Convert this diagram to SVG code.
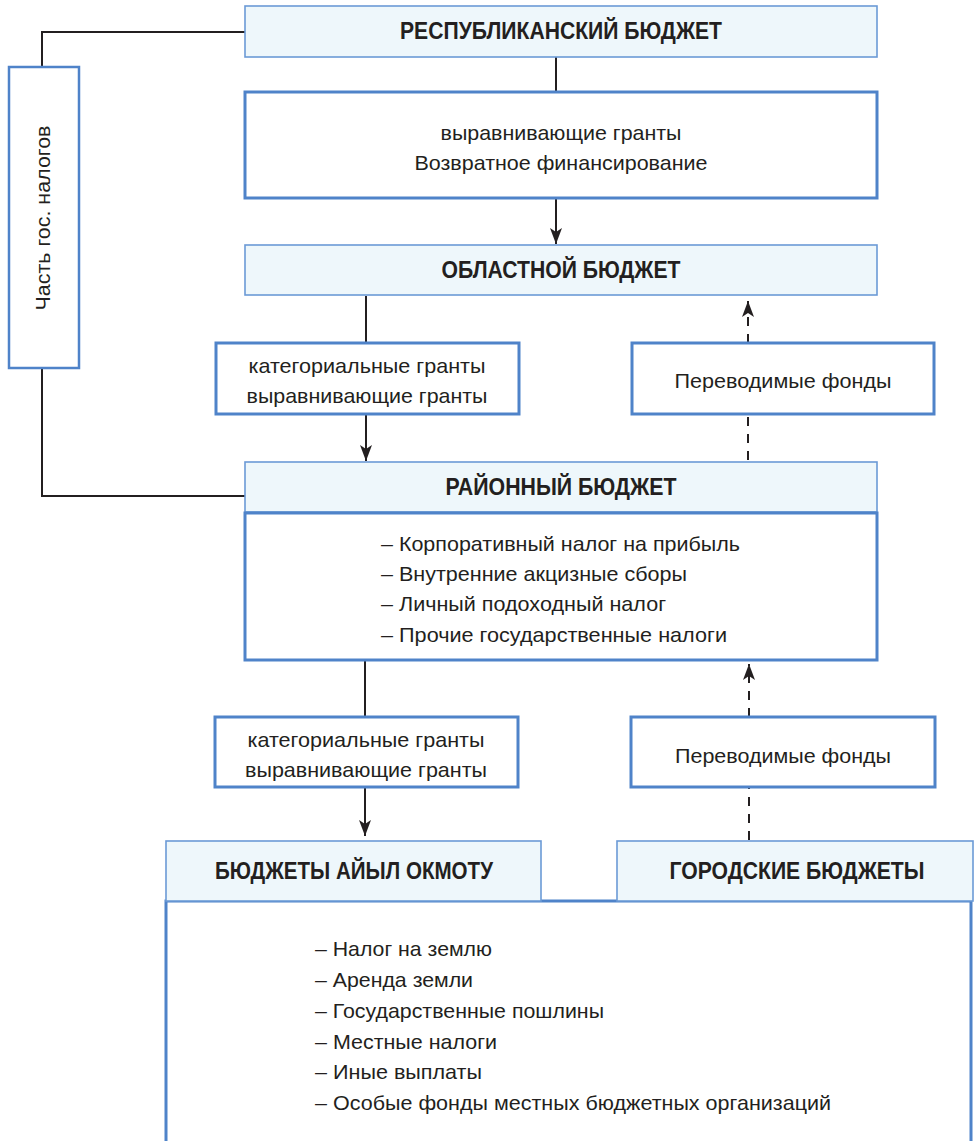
<svg xmlns="http://www.w3.org/2000/svg" width="977" height="1141" viewBox="0 0 977 1141">
<defs>
<style>
.hdr{fill:#EEF7FB;stroke:#6B9AD6;stroke-width:1.6}
.box{fill:#FFFFFF;stroke:#4F83C9;stroke-width:3}
.sbox{fill:#FFFFFF;stroke:#4F83C9;stroke-width:2.5}
.t{font-family:"Liberation Sans",Arial,sans-serif;font-size:21px;fill:#231F20}
.s{font-family:"Liberation Sans",Arial,sans-serif;font-size:20px;fill:#231F20}
.b{font-family:"Liberation Sans",Arial,sans-serif;font-size:23px;font-weight:bold;fill:#231F20}
.ln{fill:none;stroke:#231F20;stroke-width:2}
.dash{fill:none;stroke:#231F20;stroke-width:2;stroke-dasharray:9,8}
</style>
<marker id="ah" markerWidth="16" markerHeight="12" refX="16" refY="6" orient="auto" markerUnits="userSpaceOnUse" viewBox="0 0 16 12">
<path d="M16,6 L0,0 L4,6 L0,12 Z" fill="#231F20"/>
</marker>
</defs>

<g id="connectors">
<polyline class="ln" points="245,32 42,32 42,67" stroke-width="2.5"/>
<polyline class="ln" points="42,368 42,496 245,496" stroke-width="2.5"/>
<line class="ln" x1="556" y1="57" x2="556" y2="92"/>
<line class="ln" x1="556" y1="198" x2="556" y2="244" marker-end="url(#ah)"/>
<line class="ln" x1="366" y1="296" x2="366" y2="343"/>
<line class="ln" x1="366" y1="414" x2="366" y2="461" marker-end="url(#ah)"/>
<line class="dash" x1="748" y1="460" x2="748" y2="414"/>
<line class="dash" x1="748" y1="343" x2="748" y2="301" marker-end="url(#ah)"/>
<line class="ln" x1="365" y1="661" x2="365" y2="717"/>
<line class="ln" x1="365" y1="787" x2="365" y2="836" marker-end="url(#ah)"/>
<line class="dash" x1="749" y1="840" x2="749" y2="787"/>
<line class="dash" x1="749" y1="717" x2="749" y2="664" marker-end="url(#ah)"/>
</g>

<g id="side">
<rect class="sbox" x="9" y="67" width="70" height="301"/>
<text class="s" x="0" y="0" text-anchor="middle" textLength="185" lengthAdjust="spacingAndGlyphs" transform="translate(50,218) rotate(-90)">Часть гос. налогов</text>
</g>

<g id="republic">
<rect class="hdr" x="245" y="6" width="632" height="51"/>
<text class="b" x="561" y="39" text-anchor="middle" textLength="322" lengthAdjust="spacingAndGlyphs">РЕСПУБЛИКАНСКИЙ БЮДЖЕТ</text>
</g>

<g id="grants1">
<rect class="box" x="245" y="92" width="632" height="106"/>
<text class="t" x="561" y="140" text-anchor="middle" textLength="241" lengthAdjust="spacingAndGlyphs">выравнивающие гранты</text>
<text class="t" x="561" y="170" text-anchor="middle" textLength="293" lengthAdjust="spacingAndGlyphs">Возвратное финансирование</text>
</g>

<g id="oblast">
<rect class="hdr" x="245" y="245" width="632" height="50"/>
<text class="b" x="561" y="278" text-anchor="middle" textLength="239" lengthAdjust="spacingAndGlyphs">ОБЛАСТНОЙ БЮДЖЕТ</text>
</g>

<g id="grants2">
<rect class="box" x="216" y="343" width="303" height="71"/>
<text class="t" x="367" y="373" text-anchor="middle" textLength="237" lengthAdjust="spacingAndGlyphs">категориальные гранты</text>
<text class="t" x="367" y="403" text-anchor="middle" textLength="241" lengthAdjust="spacingAndGlyphs">выравнивающие гранты</text>
</g>

<g id="funds1">
<rect class="box" x="632" y="343" width="302" height="71"/>
<text class="t" x="783" y="388" text-anchor="middle" textLength="217" lengthAdjust="spacingAndGlyphs">Переводимые фонды</text>
</g>

<g id="raion">
<rect class="hdr" x="245" y="462" width="632" height="50"/>
<text class="b" x="561" y="495" text-anchor="middle" textLength="231" lengthAdjust="spacingAndGlyphs">РАЙОННЫЙ БЮДЖЕТ</text>
<rect class="box" x="245" y="513" width="632" height="147"/>
<text class="t" x="381" y="551" textLength="359" lengthAdjust="spacingAndGlyphs">– Корпоративный налог на прибыль</text>
<text class="t" x="381" y="581" textLength="306" lengthAdjust="spacingAndGlyphs">– Внутренние акцизные сборы</text>
<text class="t" x="381" y="611" textLength="285" lengthAdjust="spacingAndGlyphs">– Личный подоходный налог</text>
<text class="t" x="381" y="642" textLength="346" lengthAdjust="spacingAndGlyphs">– Прочие государственные налоги</text>
</g>

<g id="grants3">
<rect class="box" x="215" y="717" width="303" height="70"/>
<text class="t" x="366" y="747" text-anchor="middle" textLength="237" lengthAdjust="spacingAndGlyphs">категориальные гранты</text>
<text class="t" x="366" y="777" text-anchor="middle" textLength="242" lengthAdjust="spacingAndGlyphs">выравнивающие гранты</text>
</g>

<g id="funds2">
<rect class="box" x="631" y="717" width="304" height="70"/>
<text class="t" x="783" y="763" text-anchor="middle" textLength="216" lengthAdjust="spacingAndGlyphs">Переводимые фонды</text>
</g>

<g id="local">
<rect class="box" x="166" y="901" width="805" height="260"/>
<rect class="hdr" x="166" y="841" width="375" height="60"/>
<text class="b" x="354" y="879" text-anchor="middle" textLength="278" lengthAdjust="spacingAndGlyphs">БЮДЖЕТЫ АЙЫЛ ОКМОТУ</text>
<rect class="hdr" x="617" y="841" width="356" height="60"/>
<text class="b" x="797" y="879" text-anchor="middle" textLength="255" lengthAdjust="spacingAndGlyphs">ГОРОДСКИЕ БЮДЖЕТЫ</text>
<text class="t" x="315" y="956" textLength="177" lengthAdjust="spacingAndGlyphs">– Налог на землю</text>
<text class="t" x="315" y="987" textLength="158" lengthAdjust="spacingAndGlyphs">– Аренда земли</text>
<text class="t" x="315" y="1018" textLength="289" lengthAdjust="spacingAndGlyphs">– Государственные пошлины</text>
<text class="t" x="315" y="1049" textLength="182" lengthAdjust="spacingAndGlyphs">– Местные налоги</text>
<text class="t" x="315" y="1079" textLength="167" lengthAdjust="spacingAndGlyphs">– Иные выплаты</text>
<text class="t" x="315" y="1110" textLength="516" lengthAdjust="spacingAndGlyphs">– Особые фонды местных бюджетных организаций</text>
</g>
</svg>
